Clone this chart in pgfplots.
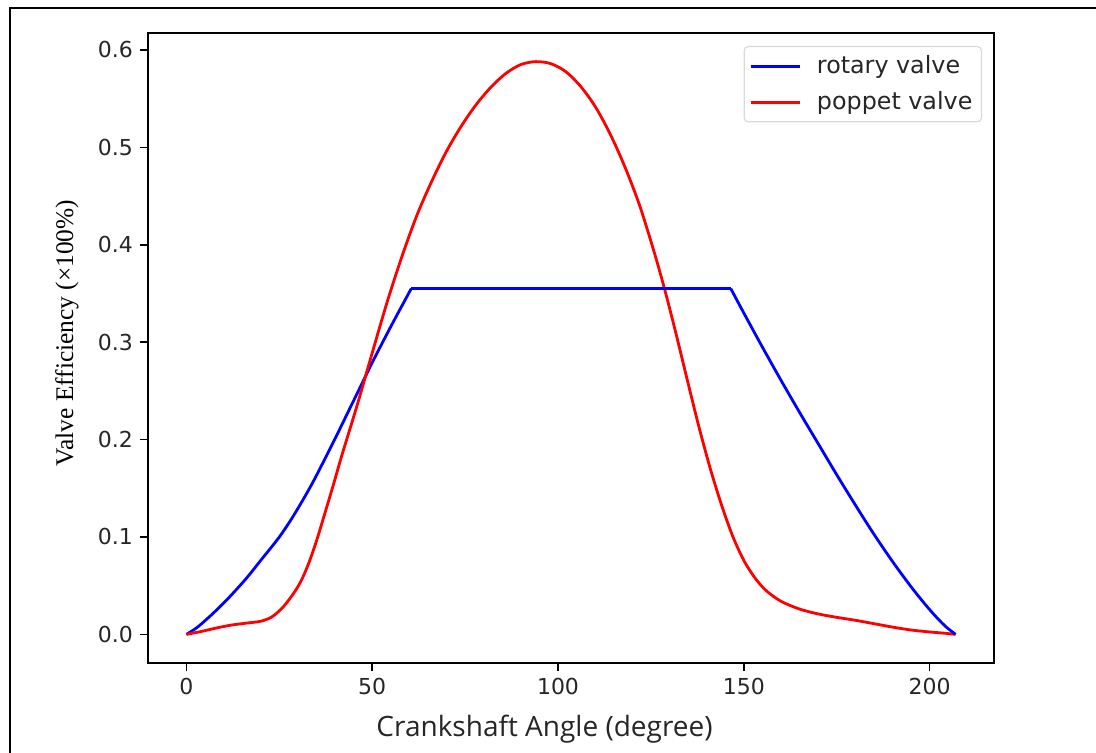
\documentclass[border=0pt]{standalone}
\usepackage{fontspec}
\setmainfont{DejaVu Sans}
\newfontfamily\serifl{Liberation Serif}
\newfontfamily\opens{Open Sans}
\usepackage{pgfplots}
\pgfplotsset{compat=1.18}
\definecolor{txt}{HTML}{262626}
\begin{document}
\begin{tikzpicture}
\useasboundingbox (0,0) rectangle (548pt,376pt);
\draw[line width=1pt] (4.75pt,-10pt) -- (4.75pt,371.8pt) -- (560pt,371.8pt);
\begin{axis}[
  at={(74pt,44.5pt)}, anchor=south west,
  scale only axis, width=423pt, height=315pt,
  xmin=-10.35, xmax=217.35, ymin=-0.0294, ymax=0.6174,
  xtick={0,50,100,150,200}, ytick={0,0.1,0.2,0.3,0.4,0.5,0.6},
  tick align=outside, major tick length=4pt,
  xtick pos=bottom, ytick pos=left,
  axis line style={line width=0.75pt, black},
  every tick/.style={line width=0.75pt, black},
  /pgf/number format/assume math mode=true,
  yticklabel={\pgfmathprintnumber[fixed,fixed zerofill,precision=1]{\tick}},
  xticklabel={\pgfmathprintnumber[fixed,precision=0]{\tick}},
  ticklabel style={font=\fontsize{11pt}{13pt}\selectfont, text=txt},
  scaled y ticks=false,
  xlabel={\opens Crankshaft Angle (degree)},
  xlabel style={font=\fontsize{14pt}{16pt}\selectfont, text=txt, at={(axis description cs:0.4687,-0.105)}, anchor=center},
  ylabel={\serifl Valve Efficiency (\texttimes100\%)},
  ylabel style={font=\fontsize{12.7pt}{14pt}\selectfont, text=black, at={(axis description cs:-0.0957,0.524)}, anchor=center, rotate=0},
  legend style={at={(1,1)}, anchor=north east, xshift=-6pt, yshift=-6.5pt,
    draw=black!15, rounded corners=2pt, line width=0.6pt,
    font=\fontsize{11.9pt}{13pt}\selectfont, text=txt,
    inner xsep=2.5pt, inner ysep=2.5pt, row sep=3.5pt,
    /tikz/every odd column/.append style={column sep=6pt}},
  legend cell align=left,
  legend image code/.code={\draw[#1, line width=1.4pt] (0pt,0pt) -- (24.5pt,0pt);},
]
\addplot[blue, line width=1.4pt, smooth] coordinates {
(0,0) (3,0.0075) (7,0.021) (11,0.036) (16,0.057) (20,0.076) (25,0.1) (29,0.123)
(34,0.156) (40,0.201) (45,0.240) (50,0.279) (55,0.316) (60.5,0.355)
};
\addlegendentry{rotary valve}
\addplot[red, line width=1.4pt, smooth] coordinates {
(0,0) (4,0.003) (8,0.0065) (12,0.0095) (16,0.0115) (20,0.0135) (23,0.018) (26,0.028)
(29,0.043) (31,0.056) (33,0.074) (35,0.096) (37,0.121) (39.5,0.153) (42,0.186) (46,0.236) (50,0.289) (54,0.341)
(58,0.388) (62,0.43) (66,0.465) (70,0.496) (74,0.522) (78,0.544) (82,0.562) (86,0.576)
(90,0.585) (94,0.588) (98,0.586) (102,0.578) (106,0.563) (110,0.542) (114,0.514)
(118,0.480) (122,0.440) (126,0.391) (129,0.35) (132,0.305) (135,0.258) (138,0.212)
(141,0.170) (144,0.133) (147,0.101) (150,0.076) (153,0.058) (156,0.045) (160,0.034)
(165,0.026) (170,0.021) (175,0.0175) (180,0.0145) (185,0.011) (190,0.0075)
(195,0.0045) (200,0.0025) (204,0.0012) (207,0)
};
\addlegendentry{poppet valve}
\addplot[blue, line width=1.4pt, forget plot] coordinates {(60.5,0.355) (146.5,0.355)};
\addplot[blue, line width=1.4pt, smooth, forget plot] coordinates {
(146.5,0.355) (150,0.330) (155,0.295) (160,0.261) (165,0.228) (170,0.196) (175,0.164)
(180,0.133) (185,0.103) (190,0.075) (195,0.049) (199,0.030) (202,0.017) (204.5,0.0075) (207,0)
};
\end{axis}
\end{tikzpicture}
\end{document}
